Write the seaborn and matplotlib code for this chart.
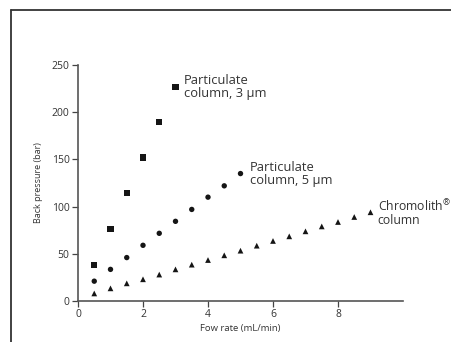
import matplotlib
matplotlib.use("Agg")
import matplotlib.pyplot as plt
import seaborn as sns
import pandas as pd
from matplotlib.lines import Line2D

# Data
flow_3um = [0.5, 1.0, 1.5, 2.0, 2.5, 3.0]
bp_3um = [38, 76, 114, 152, 190, 227]

flow_5um = [0.5, 1.0, 1.5, 2.0, 2.5, 3.0, 3.5, 4.0, 4.5, 5.0]
bp_5um = [21, 33.5, 46, 59, 71.7, 84.4, 97, 110, 122, 135]

flow_chromo = [0.5, 1.0, 1.5, 2.0, 2.5, 3.0, 3.5, 4.0, 4.5, 5.0, 5.5, 6.0,
               6.5, 7.0, 7.5, 8.0, 8.5, 9.0]
bp_chromo = [8, 13.4, 18.7, 23, 28, 33.5, 38.5, 43.4, 48.4, 53.3, 58.6, 63.6,
             68.5, 73.8, 79, 83.7, 89, 94]

series_names = ["Particulate\ncolumn, 3 \u00b5m", "Particulate\ncolumn, 5 \u00b5m",
                "Chromolith$^{\u00ae}$\ncolumn"]
x_ticks = [0, 2, 4, 6, 8]
y_ticks = [0, 50, 100, 150, 200, 250]
x_label = "Fow rate (mL/min)"
y_label = "Back pressure (bar)"

sns.set_theme(style="white")
plt.rcParams["font.family"] = ["Open Sans", "DejaVu Sans"]
plt.rcParams["mathtext.fontset"] = "custom"
plt.rcParams["mathtext.rm"] = "Open Sans"
plt.rcParams["mathtext.it"] = "Open Sans"
plt.rcParams["mathtext.default"] = "rm"

df = pd.concat([
    pd.DataFrame({"flow": flow_3um, "bp": bp_3um, "series": series_names[0]}),
    pd.DataFrame({"flow": flow_5um, "bp": bp_5um, "series": series_names[1]}),
    pd.DataFrame({"flow": flow_chromo, "bp": bp_chromo, "series": series_names[2]}),
])

fig = plt.figure(figsize=(4.51, 3.42), dpi=100)
ax = fig.add_axes([78 / 451, 1 - 301 / 342, (403 - 78) / 451, (301 - 65) / 342])

markers = {series_names[0]: "s", series_names[1]: "o", series_names[2]: "^"}
sizes = {series_names[0]: 19, series_names[1]: 15, series_names[2]: 17}
for name in series_names:
    sub = df[df["series"] == name]
    sns.scatterplot(data=sub, x="flow", y="bp", marker=markers[name],
                    s=sizes[name], color="#151515", edgecolor="none",
                    ax=ax, legend=False)

ax.set_xlim(0, 10)
ax.set_ylim(0, 250)
ax.set_xticks(x_ticks)
ax.set_yticks(y_ticks)
ax.tick_params(axis="both", direction="out", length=4, width=0.9,
               colors="#444444", labelsize=7.5, labelcolor="#333333", pad=2,
               left=True, bottom=True)
for side in ["top", "right"]:
    ax.spines[side].set_visible(False)
for side in ["left", "bottom"]:
    ax.spines[side].set_color("#555555")
    ax.spines[side].set_linewidth(1.2)

ax.set_xlabel(x_label, fontsize=6.8, color="#333333", labelpad=3)
ax.set_ylabel(y_label, fontsize=6.5, color="#333333", labelpad=6)

ends = [(flow_3um[-1], bp_3um[-1], 8, 9.3), (flow_5um[-1], bp_5um[-1], 9, 9.3),
        (flow_chromo[-1], bp_chromo[-1], 7, 8.8)]
for name, (xe, ye, off, fs) in zip(series_names, ends):
    ax.annotate(name, xy=(xe, ye), xytext=(off, 0), textcoords="offset pixels",
                ha="left", va="center", fontsize=fs, color="#333333",
                annotation_clip=False, linespacing=1.0)

# image frame (cropped at right and bottom)
fig.add_artist(Line2D([11 / 451, 11 / 451], [0, 1 - 10 / 342],
                      transform=fig.transFigure, color="#333333", lw=1.3))
fig.add_artist(Line2D([11 / 451, 1], [1 - 10 / 342, 1 - 10 / 342],
                      transform=fig.transFigure, color="#333333", lw=1.3))

fig.savefig("out.png", dpi=100)
